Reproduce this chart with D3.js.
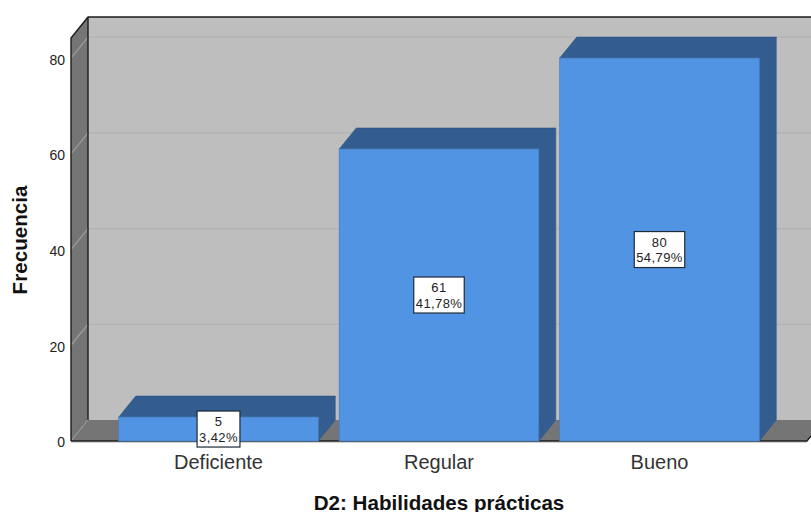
<!DOCTYPE html>
<html>
<head>
<meta charset="utf-8">
<script src="https://cdn.jsdelivr.net/npm/d3@7"></script>
<style>
html,body{margin:0;padding:0;background:#fff;overflow:hidden}
text{font-family:"Liberation Sans",Arial,sans-serif}
</style>
</head>
<body>
<svg id="c" width="811" height="512"></svg>
<script>
const categories = ["Deficiente", "Regular", "Bueno"];
const counts = [5, 61, 80];
const percents = ["3,42%", "41,78%", "54,79%"];
const yTicks = [0, 20, 40, 60, 80];
const xTitle = "D2: Habilidades prácticas";
const yTitle = "Frecuencia";

const svg = d3.select("#c");
const dx = 17, dy = -21;
const pLeft = 71, pRight = 807, pBottom = 441, pTop = 38;
const wallColor = "#bebebe", sideColor = "#757575", gridColor = "#b2b2b2";
const barColor = "#5294e4", barDark = "#335c8f", edge = "#1c1c1c";

const x = d3.scaleBand().domain(categories).range([pLeft, pRight])
  .paddingInner(0.095).paddingOuter(0.2165);
const y = d3.scaleLinear().domain([0, 84.2]).range([pBottom, pTop]);
const poly = pts => d3.line()(pts) + "Z";

// back wall, side wall, floor
svg.append("path").attr("d", poly([[pLeft+dx,pTop+dy],[830,pTop+dy],[830,pBottom+dy],[pLeft+dx,pBottom+dy]])).attr("fill", wallColor);
svg.append("path").attr("d", poly([[pLeft,pTop],[pLeft+dx,pTop+dy],[pLeft+dx,pBottom+dy],[pLeft,pBottom]])).attr("fill", sideColor);
svg.append("path").attr("d", poly([[pLeft,pBottom],[pLeft+dx,pBottom+dy],[830,pBottom+dy],[pRight,pBottom]])).attr("fill", sideColor);

// grid lines on walls
const grid = svg.append("g").attr("fill", "none").attr("stroke", gridColor).attr("stroke-width", 1.3);
yTicks.filter(t => t > 0).forEach(t => {
  grid.append("path").attr("d", d3.line()([[pLeft+dx,y(t)+dy],[811,y(t)+dy]]));
  grid.append("path").attr("d", d3.line()([[pLeft,y(t)],[pLeft+dx,y(t)+dy]])).attr("stroke", "#9c9c9c");
});
svg.append("path").attr("d", d3.line()([[pLeft,pBottom],[pLeft+dx,pBottom+dy]])).attr("stroke", "#9c9c9c").attr("fill", "none");

// soft halo under the axis
svg.append("path").attr("d", d3.line()([[pLeft,pBottom+1.5],[pRight,pBottom+1.5]])).attr("stroke", "#d0d0d0").attr("stroke-width", 1.2).attr("fill", "none");

// frame
const frame = svg.append("g").attr("fill", "none").attr("stroke", edge).attr("stroke-width", 1.4);
frame.append("path").attr("d", d3.line()([[pLeft,pBottom],[pLeft,pTop],[pLeft+dx,pTop+dy],[811,pTop+dy]]));
frame.append("path").attr("d", d3.line()([[pLeft+dx,pTop+dy],[pLeft+dx,pBottom+dy]]));
frame.append("path").attr("d", d3.line()([[pLeft,pBottom],[pRight,pBottom],[811,pBottom-5]]));

// bars
const bars = svg.append("g").selectAll("g").data(categories).join("g");
bars.append("path").attr("fill", barDark).attr("stroke", "#2f5687").attr("stroke-width", 0.6)
  .attr("d", (d,i) => poly([[x(d),y(counts[i])],[x(d)+dx,y(counts[i])+dy],[x(d)+x.bandwidth()+dx,y(counts[i])+dy],[x(d)+x.bandwidth(),y(counts[i])]]));
bars.append("path").attr("fill", barDark).attr("stroke", "#2f5687").attr("stroke-width", 0.6)
  .attr("d", (d,i) => poly([[x(d)+x.bandwidth(),y(counts[i])],[x(d)+x.bandwidth()+dx,y(counts[i])+dy],[x(d)+x.bandwidth()+dx,y(0)+dy],[x(d)+x.bandwidth(),y(0)]]));
bars.append("rect").attr("fill", barColor).attr("stroke", "#4a7fc0").attr("stroke-width", 0.8)
  .attr("x", d => x(d)).attr("width", x.bandwidth())
  .attr("y", (d,i) => y(counts[i])).attr("height", (d,i) => y(0) - y(counts[i]));

// y axis
const yAxis = svg.append("g").attr("transform", `translate(${pLeft},1.5)`)
  .call(d3.axisLeft(y).tickValues(yTicks).tickSize(0).tickPadding(6));
yAxis.select(".domain").remove();
yAxis.selectAll("text").attr("font-size", 14).attr("fill", "#222").style("font-family", '"Liberation Sans",Arial,sans-serif');

// x axis
const xAxis = svg.append("g").attr("transform", `translate(0,${pBottom})`)
  .call(d3.axisBottom(x).tickSize(0).tickPadding(13.5));
xAxis.select(".domain").remove();
xAxis.selectAll("text").attr("font-size", 20).attr("fill", "#333").style("font-family", '"Liberation Sans",Arial,sans-serif');

// value labels
bars.each(function(d,i){
  const g = d3.select(this).append("g");
  const cx = x(d) + x.bandwidth()/2;
  const cy = y(counts[i]/2);
  const t1 = g.append("text").attr("x", cx).attr("y", cy-3).attr("text-anchor","middle").attr("font-size",13).attr("letter-spacing",0.4).attr("fill","#222").text(counts[i]);
  const t2 = g.append("text").attr("x", cx).attr("y", cy+12.5).attr("text-anchor","middle").attr("font-size",13).attr("letter-spacing",0.4).attr("fill","#222").text(percents[i]);
  const w = Math.max(t1.node().getComputedTextLength(), t2.node().getComputedTextLength()) + 4;
  g.insert("rect","text").attr("x", cx-w/2).attr("y", cy-18).attr("width", w).attr("height", 36)
    .attr("fill","#fff").attr("stroke","#1f2a38").attr("stroke-width",1.2);
});

// titles
svg.append("text").attr("x", 439).attr("y", 509.5).attr("text-anchor","middle")
  .attr("font-size",20.6).attr("font-weight","bold").attr("fill","#111").text(xTitle);
svg.append("text").attr("transform","translate(27,240) rotate(-90)").attr("text-anchor","middle")
  .attr("font-size",20.6).attr("font-weight","bold").attr("fill","#111").text(yTitle);
</script>
</body>
</html>
